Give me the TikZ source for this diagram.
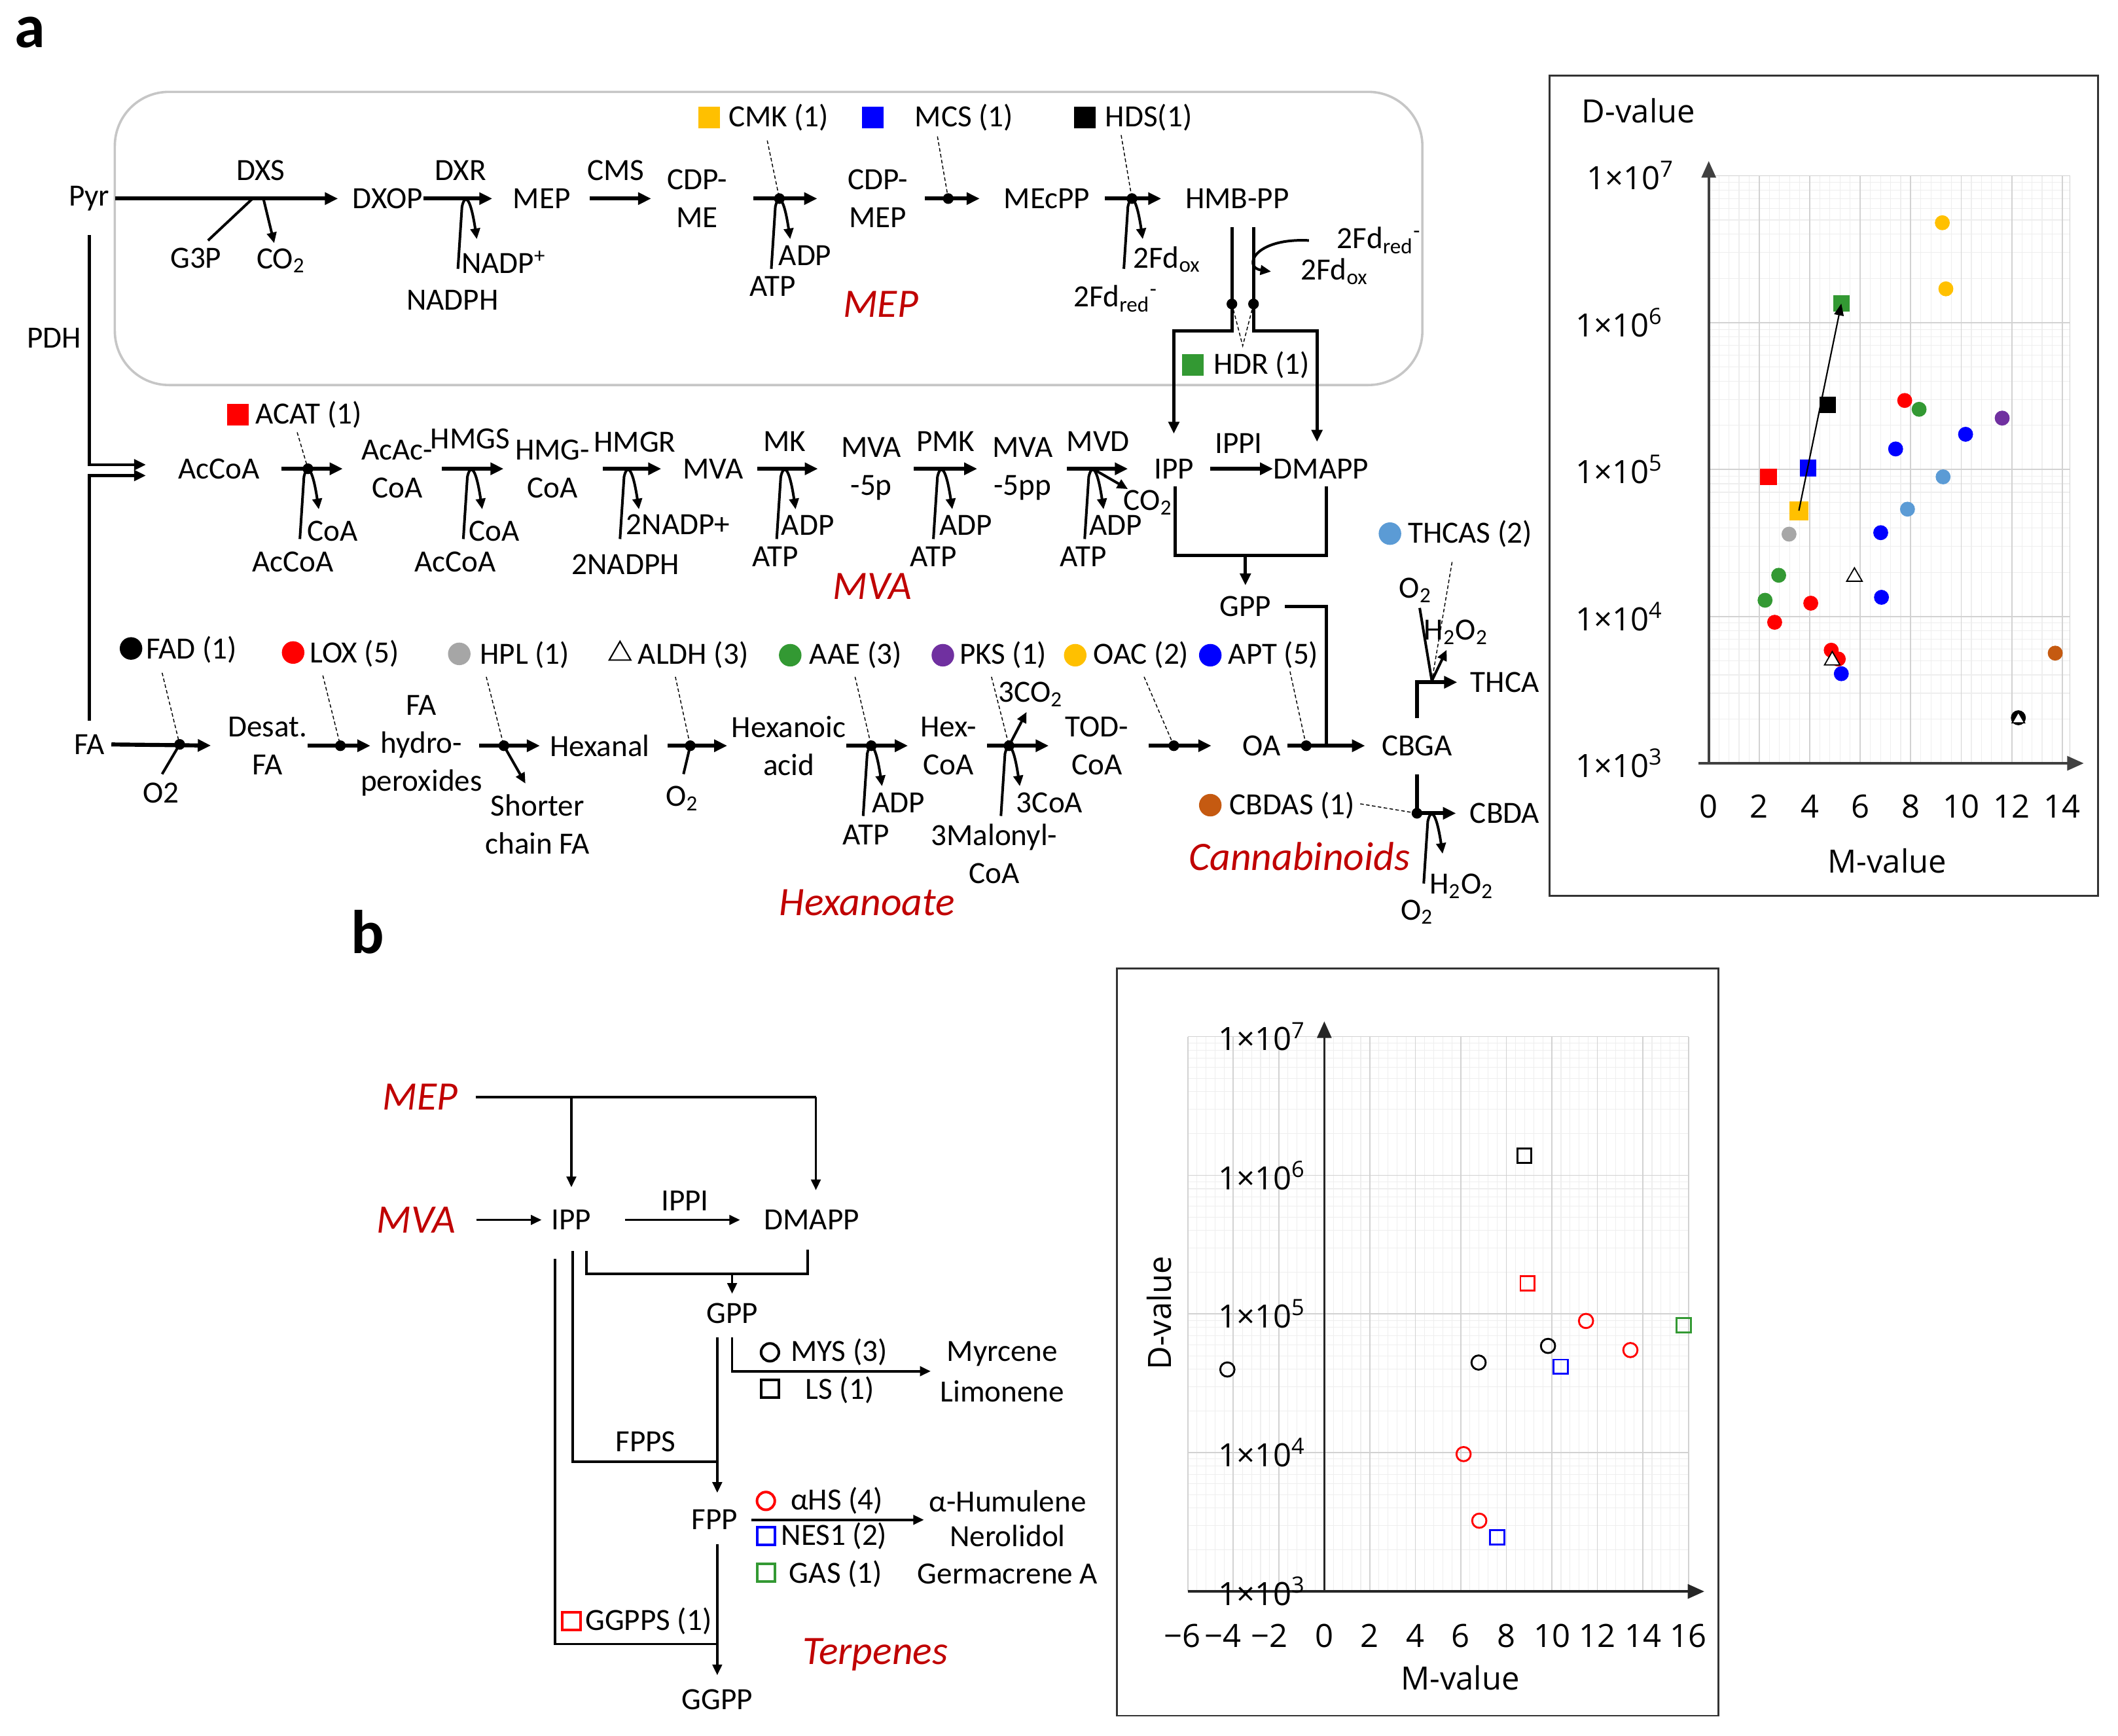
\documentclass[tikz,border=0pt]{standalone}
\usepackage{fontspec}
\setmainfont{Carlito}
\newfontfamily\plotfont{Open Sans}
\usetikzlibrary{arrows.meta,shapes.geometric}
\definecolor{pwred}{HTML}{C00000}
\definecolor{cyel}{HTML}{FFC000}
\definecolor{cblu}{HTML}{0000FF}
\definecolor{cred}{HTML}{FF0000}
\definecolor{cgrn}{HTML}{339933}
\definecolor{cpur}{HTML}{7030A0}
\definecolor{cgry}{HTML}{A6A6A6}
\definecolor{clbl}{HTML}{5B9BD5}
\definecolor{cbrn}{HTML}{C55A11}

\begin{document}
\begin{tikzpicture}[x=0.02cm, y=-0.02cm,
    every node/.style={inner sep=0pt, font=\fontsize{13}{16}\selectfont},
    cpd/.style={align=center},
    pw/.style={text=pwred, font=\fontsize{17}{20}\selectfont\itshape},
    plt/.style={font=\plotfont\fontsize{13.5}{16}\selectfont},
    rxn/.style={line width=1.7pt, -{Triangle[length=5.5pt,width=5pt]}},
    hook/.style={line width=1.1pt, -{Triangle[length=4.5pt,width=4pt]}},
    sidel/.style={line width=1.1pt},
    conn/.style={line width=1.3pt},
    conna/.style={line width=1.3pt, -{Triangle[length=5pt,width=4.5pt]}},
    bconn/.style={line width=1pt},
    bconna/.style={line width=1pt, -{Triangle[length=4.5pt,width=4pt]}},
    jdot/.style={circle, fill, minimum size=4.5pt},
    lead/.style={line width=0.4pt, dash pattern=on 1.5pt off 1pt},
    lsq/.style={fill=#1, minimum size=9pt},
    lcirc/.style={circle, fill=#1, minimum size=9.5pt},
    ltri/.style={regular polygon, regular polygon sides=3, draw, line width=0.6pt, minimum size=10.5pt},
    ocirc/.style={circle, draw=#1, line width=1.1pt, minimum size=7.5pt},
    osq/.style={draw=#1, line width=1.1pt, minimum size=7.5pt},
    gmin/.style={gray!13, line width=0.3pt},
    gmaj/.style={gray!35, line width=0.5pt},
    axis/.style={black!75, line width=1pt, -{Triangle[length=7pt,width=6pt]}},
    fc/.style={circle, fill=#1, minimum size=6.3pt},
    fs/.style={fill=#1, minimum size=7pt},
    tri/.style={regular polygon, regular polygon sides=3, draw, fill=white, line width=0.5pt, minimum size=7.5pt},
    oc/.style={circle, draw=#1, line width=0.8pt, minimum size=6pt},
    os/.style={draw=#1, line width=0.8pt, minimum size=6pt}]

\useasboundingbox (0,0) rectangle (1568,1285);

% panel labels
\node[font=\fontsize{26}{28}\selectfont\bfseries] (pa) at (22,24) {a};
\node[font=\fontsize{26}{28}\selectfont\bfseries] (pb) at (272,690) {b};

% MEP compartment
\draw[gray!45, line width=1pt, rounded corners=0.8cm] (85,68) rectangle (1053,285);

% ---- MEP row
\node[cpd] (pyr) at (66,147) {Pyr};
\node[cpd] (dxop) at (287,147) {DXOP};
\node[cpd] (mep) at (401,147) {MEP};
\node[cpd] (cdpme) at (516,147) {CDP-\\ME};
\node[cpd] (cdpmep) at (650,147) {CDP-\\MEP};
\node[cpd] (mecpp) at (775,147) {MEcPP};
\node[cpd] (hmbpp) at (916,147) {HMB-PP};

\node (dxs) at (193,126) {DXS};
\node (dxr) at (341,126) {DXR};
\node (cms) at (456,126) {CMS};

\coordinate (jdxs) at (187,147);
\coordinate (jdxr) at (345,147);
\coordinate (jcmk) at (577,147);
\coordinate (jmcs) at (702,147);
\coordinate (jhds) at (838,147);

\draw[rxn, shorten <=2.3pt, shorten >=6pt] (pyr.east) -- (dxop.west);
\draw[rxn, shorten >=8.5pt] (dxop.east) -- (mep.west);
\draw[rxn, shorten <=8pt, shorten >=6.5pt] (mep.east) -- (cdpme.west);
\draw[rxn, shorten <=11pt, shorten >=12.8pt] (cdpme.east) -- (cdpmep.west);
\draw[rxn, shorten <=7pt, shorten >=10pt] (cdpmep.east) -- (mecpp.west);
\draw[rxn, shorten <=6.2pt, shorten >=10pt] (mecpp.east) -- (hmbpp.west);

\node (g3p) at (145,191) {G3P};
\node (co2a) at (208,193) {CO\textsubscript{2}};
\draw[sidel] ([shift={(-33,31)}]jdxs) -- (jdxs);
\draw[hook] ([shift={(8,0)}]jdxs) -- ([shift={(16,33)}]jdxs);

\node (nadpp) at (373,194) {NADP\textsuperscript{+}};
\node (nadph) at (335,222) {NADPH};
\node (adp1) at (596,189) {ADP};
\node (atp1) at (572,212) {ATP};
\node (fdox1) at (864,192) {2Fd\textsubscript{ox}};
\node (fdred1) at (826,221) {2Fd\textsubscript{red}\textsuperscript{-}};

\node[lsq=cyel] (mcmk) at (525,87) {};
\node[anchor=west] (tcmk) at (539,87) {CMK (1)};
\node[lsq=cblu] (mmcs) at (646,87) {};
\node[anchor=west] (tmcs) at (677,87) {MCS (1)};
\node[lsq=black] (mhds) at (803,87) {};
\node[anchor=west] (thds) at (818,87) {HDS(1)};
\draw[lead] (568,104) -- (jcmk);
\draw[lead] (694,101) -- (jmcs);
\draw[lead] (830,100) -- (jhds);

% HDR fork to IPP / DMAPP
\coordinate (jhdrl) at (912,225);
\coordinate (jhdrr) at (928,225);
\draw[conna] (912,168) -- (jhdrl) -- (912,245) -- (869,245) -- (869,321);
\draw[conna] (928,168) -- (jhdrr) -- (928,245) -- (975,245) -- (975,327);
\node (fdred2) at (1021,178) {2Fd\textsubscript{red}\textsuperscript{-}};
\node (fdox2) at (988,201) {2Fd\textsubscript{ox}};
\draw[hook] (969,178) .. controls (928,176) and (920,198) .. (941,201);
\draw[lead] (jhdrl) -- (920,256) -- (jhdrr);
\node[lsq=cgrn] (mhdr) at (883,270) {};
\node[anchor=west] (thdr) at (898,270) {HDR (1)};

\node[pw] (lmep) at (652,225) {MEP};

% ---- MVA row
\node[cpd] (accoa) at (162,347) {AcCoA};
\node[cpd] (acaccoa) at (294,347) {AcAc-\\CoA};
\node[cpd] (hmgcoa) at (409,347) {HMG-\\CoA};
\node[cpd] (mva) at (528,347) {MVA};
\node[cpd] (mva5p) at (645,347) {MVA\\-5p};
\node[cpd] (mva5pp) at (757,347) {MVA\\-5pp};
\node[cpd] (ipp) at (869,347) {IPP};
\node[cpd] (dmapp) at (978,347) {DMAPP};

\node (hmgs) at (348,325) {HMGS};
\node (hmgr) at (470,327) {HMGR};
\node (mk) at (581,327) {MK};
\node (pmk) at (700,327) {PMK};
\node (mvd) at (813,327) {MVD};
\node (ippi) at (917,328) {IPPI};

\coordinate (jacat) at (228,347);
\coordinate (jhmgs) at (349,347);
\coordinate (jhmgr) at (465,347);
\coordinate (jmk) at (581,347);
\coordinate (jpmk) at (697,347);
\coordinate (jmvd) at (809,347);

\draw[rxn, shorten <=9pt, shorten >=7.7pt] (accoa.east) -- (acaccoa.west);
\draw[rxn, shorten <=3.7pt, shorten >=4.7pt] (acaccoa.east) -- (hmgcoa.west);
\draw[rxn, shorten <=5.3pt, shorten >=9pt] (hmgcoa.east) -- (mva.west);
\draw[rxn, shorten <=5.7pt, shorten >=9.6pt] (mva.east) -- (mva5p.west);
\draw[rxn, shorten <=5pt, shorten >=6.2pt] (mva5p.east) -- (mva5pp.west);
\draw[rxn, shorten <=5.7pt, shorten >=10.8pt] (mva5pp.east) -- (ipp.west);
\draw[rxn, shorten <=6.8pt] (ipp.east) -- (dmapp.west);

\node (coa1) at (246,393) {CoA};
\node (accoa1) at (217,416) {AcCoA};
\node (coa2) at (366,393) {CoA};
\node (accoa2) at (337,416) {AcCoA};
\node (nadp2) at (502,388) {2NADP+};
\node (nadph2) at (463,418) {2NADPH};
\node (adp2) at (598,389) {ADP};
\node (atp2) at (574,412) {ATP};
\node (adp3) at (715,389) {ADP};
\node (atp3) at (691,412) {ATP};
\node (adp4) at (826,389) {ADP};
\node (atp4) at (802,412) {ATP};
\node (co2b) at (850,372) {CO\textsubscript{2}};
\draw[hook] (jmvd) -- ([shift={(26,15)}]jmvd);

\node[lsq=cred] (macat) at (176,307) {};
\node[anchor=west] (tacat) at (189,307) {ACAT (1)};
\draw[lead] (220,320) -- (jacat);

% IPP + DMAPP to GPP
\node[cpd] (gpp) at (922,449) {GPP};
\draw[conn] (870,360) -- (870,411) -- (982,411) -- (982,360);
\draw[conna, shorten >=4.5pt] (922,411) -- (gpp.north);
\node[pw] (lmva) at (646,434) {MVA};

% ---- Hexanoate row
\node[cpd] (fa) at (66,551) {FA};
\node[cpd] (desat) at (198,552) {Desat.\\FA};
\node[cpd] (hpox) at (312,552) {FA\\hydro-\\peroxides};
\node[cpd] (hexanal) at (444,552) {Hexanal};
\node[cpd] (hexacid) at (584,552) {Hexanoic\\acid};
\node[cpd] (hexcoa) at (702,552) {Hex-\\CoA};
\node[cpd] (todcoa) at (812,552) {TOD-\\CoA};
\node[cpd] (oa) at (934,552) {OA};
\node[cpd] (cbga) at (1049,552) {CBGA};
\node[cpd] (thca) at (1114,505) {THCA};
\node[cpd] (cbda) at (1114,602) {CBDA};

% Pyr / FA into AcCoA
\node (pdh) at (40,250) {PDH};
\draw[conna] (66,174) -- (66,344) -- (108,344);
\draw[conna] ([yshift=0.2cm]fa.north) -- (66,352) -- (108,352);

\coordinate (jfad) at (133,551);
\coordinate (jlox) at (252,552);
\coordinate (jhpl) at (373,552);
\coordinate (jaldh) at (511,552);
\coordinate (jaae) at (645,552);
\coordinate (jpks) at (747,552);
\coordinate (joac) at (869,552);
\coordinate (japt) at (967,552);
\coordinate (jthc) at (1060,504);
\coordinate (jcbd) at (1060,602);
\coordinate (jcbdd) at (1049,602);

\draw[rxn, shorten <=2.8pt, shorten >=7pt] (fa.east) -- (desat.west);
\draw[rxn, shorten >=-4.3pt] (desat.east) -- (hpox.west);
\draw[rxn, shorten <=-1.4pt, shorten >=4pt] (hpox.east) -- (hexanal.west);
\draw[rxn, shorten <=7.4pt, shorten >=1.7pt] (hexanal.east) -- (hexacid.west);
\draw[rxn, shorten >=5pt] (hexacid.east) -- (hexcoa.west);
\draw[rxn, shorten <=4.4pt, shorten >=6.8pt] (hexcoa.east) -- (todcoa.west);
\draw[rxn, shorten <=8.5pt, shorten >=13pt] (todcoa.east) -- (oa.west);
\draw[rxn, shorten <=2.8pt, shorten >=6.8pt] (oa.east) -- (cbga.west);
\draw[conn, shorten <=5.7pt] (gpp.east) -| (982,552);

\node (o2a) at (119,587) {O2};
\draw[sidel] ([shift={(-13,22)}]jfad) -- (jfad);
\node[cpd] (shorter) at (398,610) {Shorter\\chain FA};
\draw[hook] (jhpl) -- ([shift={(16,28)}]jhpl);
\node (o2b) at (505,591) {O\textsubscript{2}};
\draw[sidel] ([shift={(-5,21)}]jaldh) -- (jaldh);
\node (adp5) at (665,594) {ADP};
\node (atp5) at (641,618) {ATP};
\node (co2c) at (763,514) {3CO\textsubscript{2}};
\draw[hook] (jpks) -- ([shift={(13,-25)}]jpks);
\node (coa3) at (777,594) {3CoA};
\node[cpd] (malcoa) at (736,632) {3Malonyl-\\CoA};

% legends of the hexanoate / cannabinoid steps
\node[lcirc=black] (mfad) at (97,480) {};
\node[anchor=west] (tfad) at (108,481) {FAD (1)};
\node[lcirc=cred] (mlox) at (217,483) {};
\node[anchor=west] (tlox) at (229,484) {LOX (5)};
\node[lcirc=cgry] (mhpl) at (340,484) {};
\node[anchor=west] (thpl) at (355,485) {HPL (1)};
\node[ltri] (maldh) at (459,484) {};
\node[anchor=west] (taldh) at (472,485) {ALDH (3)};
\node[lcirc=cgrn] (maae) at (585,485) {};
\node[anchor=west] (taae) at (599,485) {AAE (3)};
\node[lcirc=cpur] (mpks) at (698,485) {};
\node[anchor=west] (tpks) at (710,485) {PKS (1)};
\node[lcirc=cyel] (moac) at (796,485) {};
\node[anchor=west] (toac) at (809,485) {OAC (2)};
\node[lcirc=cblu] (mapt) at (896,485) {};
\node[anchor=west] (tapt) at (909,485) {APT (5)};
\node[lcirc=clbl] (mthcas) at (1029,395) {};
\node[anchor=west] (tthcas) at (1042,395) {THCAS (2)};
\node[lcirc=cbrn] (mcbdas) at (896,596) {};
\node[anchor=west] (tcbdas) at (910,596) {CBDAS (1)};

\draw[lead] (120,498) -- (jfad);
\draw[lead] (239,500) -- (jlox);
\draw[lead] (360,501) -- (jhpl);
\draw[lead] (500,501) -- (jaldh);
\draw[lead] (633,501) -- (jaae);
\draw[lead] (734,501) -- (jpks);
\draw[lead] (847,501) -- (joac);
\draw[lead] (955,497) -- (japt);
\draw[lead] (1075,416) -- (jthc);
\draw[lead] (1007,595) -- (jcbdd);

% THCA and CBDA branches
\draw[rxn, shorten >=5.4pt] ([yshift=0.25cm]cbga.north) |- (thca.west);
\node (o2c) at (1048,437) {O\textsubscript{2}};
\node (h2o2a) at (1078,468) {H\textsubscript{2}O\textsubscript{2}};
\draw[sidel] (1051,450) -- (jthc);
\draw[hook] (jthc) -- (1071,481);
\draw[rxn, shorten >=5.7pt] ([yshift=-0.27cm]cbga.south) |- (cbda.west);
\node (h2o2b) at (1082,656) {H\textsubscript{2}O\textsubscript{2}};
\node (o2d) at (1049,675) {O\textsubscript{2}};

\node[pw] (lhex) at (642,668) {Hexanoate};
\node[pw] (lcan) at (962,634) {Cannabinoids};

% co-substrate hooks and enzyme dots
\foreach \j in {jdxr,jcmk,jhds,jacat,jhmgs,jhmgr,jmk,jpmk,jmvd,jaae,jpks,jcbd}
  \draw[hook] ([shift={(-6,52)}]\j) -- ([shift={(-3,6)}]\j) .. controls ([shift={(-1,-3)}]\j) and ([shift={(3,-3)}]\j) .. ([shift={(8,30)}]\j);
\foreach \j in {jcmk,jmcs,jhds,jacat,jfad,jlox,jhpl,jaldh,jaae,jpks,joac,japt,jcbdd,jhdrl,jhdrr}
  \node[jdot] (d\j) at (\j) {};

% ---- plot a
\draw[line width=0.8pt, black!80] (1147,56) rectangle (1553,663);
\node[plt] (dva) at (1213,82) {D-value};
\node[plt] (mva-a) at (1397,637) {M-value};
\begin{scope}[shift={(1265,565)}, x=0.374cm, y=2.175cm]
  \foreach \m in {0.4,0.8,...,14.0} \draw[gmin] (\m,0) -- (\m,4);
  \foreach \d in {0,...,3} \foreach \k in {2,...,9}
    \draw[gmin] (0,{\d+ln(\k)/ln(10)}) -- (14.3,{\d+ln(\k)/ln(10)});
  \foreach \m in {2,4,...,14} \draw[gmaj] (\m,0) -- (\m,4);
  \foreach \d in {1,...,4} \draw[gmaj] (0,\d) -- (14.3,\d);
  \draw[gmaj] (14.3,0) -- (14.3,4);
  \draw[axis] (-0.4,0) -- (14.85,0);
  \draw[axis] (0,0) -- (0,4.1);
  \foreach \m in {0,2,...,14} \node[plt] (ta\m) at (\m,-0.294) {\m};
  \foreach \d/\e in {0/3,1/4,2/5,3/6} \node[plt, anchor=east] (la\e) at (-1.8,\d) {1×10\textsuperscript{\e}};
  \node[plt, anchor=east] (la7) at (-1.35,4) {1×10\textsuperscript{7}};
  \node[fc=cyel] (py1) at (9.25,3.68) {};
  \node[fc=cyel] (py2) at (9.39,3.23) {};
  \node[fc=cgry] (pgy) at (3.18,1.56) {};
  \node[fc=cgrn] (pg1) at (2.77,1.28) {};
  \node[fc=cgrn] (pg2) at (2.23,1.11) {};
  \node[fc=cgrn] (pg3) at (8.33,2.41) {};
  \node[fc=cred] (pr1) at (2.61,0.96) {};
  \node[fc=cred] (pr2) at (4.04,1.09) {};
  \node[fc=cred] (pr3) at (4.85,0.77) {};
  \node[fc=cred] (pr4) at (5.13,0.71) {};
  \node[fc=cred] (pr5) at (7.76,2.47) {};
  \node[tri] (pt1) at (4.89,0.70) {};
  \node[tri] (pt2) at (5.77,1.27) {};
  \node[fc=cblu] (pb1) at (5.25,0.61) {};
  \node[fc=cblu] (pb2) at (6.81,1.57) {};
  \node[fc=cblu] (pb3) at (6.84,1.13) {};
  \node[fc=cblu] (pb4) at (7.40,2.14) {};
  \node[fc=cblu] (pb5) at (10.17,2.24) {};
  \node[fc=clbl] (pl1) at (7.87,1.73) {};
  \node[fc=clbl] (pl2) at (9.28,1.95) {};
  \node[fc=cpur] (pp1) at (11.62,2.35) {};
  \node[fc=cbrn] (pn1) at (13.72,0.75) {};
  \node[fc=black] (pk1) at (12.26,0.31) {};
  \node[tri, minimum size=6pt] (pt3) at (12.26,0.30) {};
  \node[fs=cred] (sacat) at (2.37,1.95) {};
  \node[fs=cyel, minimum size=8pt] (scmk) at (3.57,1.72) {};
  \node[fs=cblu] (smcs) at (3.93,2.01) {};
  \node[fs=black] (shds) at (4.71,2.44) {};
  \node[fs=cgrn] (shdr) at (5.25,3.13) {};
  \draw[line width=0.6pt, -{Triangle[length=5pt,width=4pt]}] (scmk.center) -- (shdr.center);
\end{scope}

% ---- panel b scheme
\node[pw] (mepb) at (311,812) {MEP};
\node[pw] (mvab) at (308,903) {MVA};
\node (ippb) at (423,903) {IPP};
\node (dmappb) at (601,903) {DMAPP};
\node (ippib) at (507,889) {IPPI};
\node (gppb) at (542,972) {GPP};
\node (fppb) at (529,1125) {FPP};
\node (ggppb) at (531,1258) {GGPP};

\draw[bconn, shorten <=7.4pt] (mepb.east) -- (604,812);
\draw[bconna, shorten >=9.4pt] (423,812) -- (ippb.north);
\draw[bconna] (604,812) -- (604,881);
\draw[bconna, shorten <=8.5pt, shorten >=4pt] (mvab.east) -- (ippb.west);
\draw[bconna, shorten <=14pt, shorten >=10pt] (ippb.east) -- (dmappb.west);
\draw[bconn] (434,926) -- (434,943) -- (598,943) -- (598,925);
\draw[bconna, shorten >=3.7pt] (542,943) -- (gppb.north);
\draw[bconna] (542,990) -- (542,1015) -- (689,1015);
\draw[bconna] (531,990) -- (531,1105);
\draw[bconn] (424,926) -- (424,1082) -- (531,1082);
\draw[bconna, shorten <=5.7pt] (fppb.east) -- (684,1125);
\draw[bconna] (531,1143) -- (531,1240);
\draw[bconn] (411,932) -- (411,1217) -- (531,1217);

\node[ocirc=black] (mmys) at (570,1001) {};
\node[anchor=west] (tmys) at (585,1001) {MYS (3)};
\node[osq=black] (mls) at (570,1028) {};
\node[anchor=west] (tls) at (596,1029) {LS (1)};
\node (myrc) at (742,1002) {Myrcene};
\node (limo) at (742,1030) {Limonene};
\node (fpps) at (478,1067) {FPPS};
\node[ocirc=cred] (mahs) at (567,1111) {};
\node[anchor=west] (tahs) at (585,1111) {αHS (4)};
\node[osq=cblu] (mnes) at (567,1137) {};
\node[anchor=west] (tnes) at (578,1137) {NES1 (2)};
\node[osq=cgrn] (mgas) at (567,1164) {};
\node[anchor=west] (tgas) at (584,1165) {GAS (1)};
\node (humul) at (746,1111) {α-Humulene};
\node (nerol) at (746,1137) {Nerolidol};
\node (germ) at (746,1165) {Germacrene A};
\node[osq=cred] (mggpps) at (423,1200) {};
\node[anchor=west] (tggpps) at (433,1200) {GGPPS (1)};
\node[pw] (terp) at (648,1225) {Terpenes};

% ---- plot b
\draw[line width=0.8pt, black!80] (827,717) rectangle (1272,1270);
\node[plt, rotate=90] (dvb) at (858,972) {D-value};
\node[plt] (mvb) at (1081,1242) {M-value};
\begin{scope}[shift={(980.4,1178)}, x=0.337cm, y=2.054cm]
  \foreach \m in {-5.6,-5.2,...,16.0} \draw[gmin] (\m,0) -- (\m,4);
  \foreach \d in {0,...,3} \foreach \k in {2,...,9}
    \draw[gmin] (-6,{\d+ln(\k)/ln(10)}) -- (16,{\d+ln(\k)/ln(10)});
  \foreach \m in {-6,-4,...,16} \draw[gmaj] (\m,0) -- (\m,4);
  \foreach \d in {1,...,4} \draw[gmaj] (-6,\d) -- (16,\d);
  \draw[axis, black!85] (-6,0) -- (16.7,0);
  \draw[axis, black!85] (0,0) -- (0,4.11);
  \foreach \m in {0,2,...,16} \node[plt] (tb\m) at (\m,-0.32) {\m};
  \foreach \m/\p in {6/6.25,4/4.45,2/2.4} \node[plt] (tbm\m) at (-\p,-0.32) {−\m};
  \foreach \d/\e in {0/3,1/4,2/5,3/6,4/7} \node[plt] (lb\e) at (-2.75,\d) {1×10\textsuperscript{\e}};
  \node[os=black] (qk1) at (8.79,3.14) {};
  \node[os=cred] (qr1) at (8.93,2.22) {};
  \node[oc=cred] (qr2) at (11.5,1.95) {};
  \node[os=cgrn] (qg1) at (15.8,1.92) {};
  \node[oc=cred] (qr3) at (13.45,1.74) {};
  \node[oc=black] (qk2) at (9.83,1.77) {};
  \node[os=cblu] (qb1) at (10.38,1.62) {};
  \node[oc=black] (qk3) at (6.78,1.65) {};
  \node[oc=black] (qk4) at (-4.26,1.60) {};
  \node[oc=cred] (qr4) at (6.12,0.99) {};
  \node[oc=cred] (qr5) at (6.81,0.51) {};
  \node[os=cblu] (qb2) at (7.59,0.39) {};
\end{scope}
\end{tikzpicture}
\end{document}
